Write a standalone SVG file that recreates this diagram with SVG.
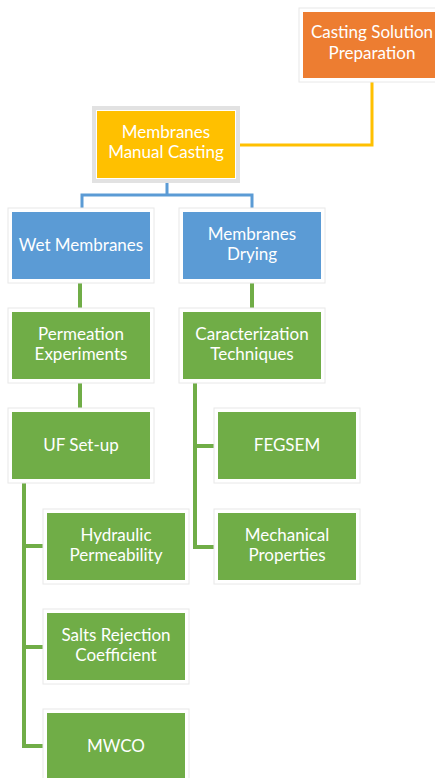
<svg xmlns="http://www.w3.org/2000/svg" width="435" height="778" viewBox="0 0 435 778">
<style>
.frame{fill:#ffffff;stroke:#e8e8e8;stroke-width:1}
.frameY{fill:#ffffff;stroke:#e2e2e2;stroke-width:4}
.or{fill:#ED7D31}
.ye{fill:#FFC000}
.bl{fill:#5B9BD5}
.gr{fill:#70AD47}
text{font-family:Lato,"Liberation Sans",sans-serif;font-size:17px;fill:#ffffff;text-anchor:middle}
.cy{fill:none;stroke:#FFC000;stroke-width:3}
.cb{fill:none;stroke:#5B9BD5;stroke-width:3}
.cg{fill:none;stroke:#70AD47;stroke-width:4}
</style>
<rect width="435" height="778" fill="#ffffff"/>
<g id="connectors">
<path class="cy" d="M372 80 V145 H238"/>
<path class="cb" d="M167 181 V195 M82 209 V195 H252 V209"/>
<path class="cg" d="M80 283 V308 M252 283 V308 M80 383 V408 M195 383 V547 H215 M195 446 H215 M24 483 V746 H44 M24 546 H44 M24 647 H44"/>
</g>
<g id="casting-solution">
<rect class="frame" x="299" y="8" width="142" height="74"/>
<rect class="or" x="303" y="12" width="134" height="66"/>
<text x="372" y="38">Casting Solution</text>
<text x="372" y="59">Preparation</text>
</g>
<g id="manual-casting">
<rect class="frameY" x="94" y="108" width="144" height="73"/>
<rect class="ye" x="97" y="111" width="138" height="67"/>
<text x="166" y="138">Membranes</text>
<text x="166" y="158">Manual Casting</text>
</g>
<g id="wet-membranes">
<rect class="frame" x="8" y="208" width="146" height="75"/>
<rect class="bl" x="12" y="212" width="138" height="67"/>
<text x="81" y="251">Wet Membranes</text>
</g>
<g id="membranes-drying">
<rect class="frame" x="179" y="208" width="146" height="75"/>
<rect class="bl" x="183" y="212" width="138" height="67"/>
<text x="252" y="240">Membranes</text>
<text x="252" y="260">Drying</text>
</g>
<g id="permeation">
<rect class="frame" x="8" y="308" width="146" height="75"/>
<rect class="gr" x="12" y="312" width="138" height="67"/>
<text x="81" y="340">Permeation</text>
<text x="81" y="360">Experiments</text>
</g>
<g id="caracterization">
<rect class="frame" x="179" y="308" width="146" height="75"/>
<rect class="gr" x="183" y="312" width="138" height="67"/>
<text x="252" y="340">Caracterization</text>
<text x="252" y="360">Techniques</text>
</g>
<g id="uf-setup">
<rect class="frame" x="8" y="408" width="146" height="75"/>
<rect class="gr" x="12" y="412" width="138" height="67"/>
<text x="81" y="451">UF Set-up</text>
</g>
<g id="fegsem">
<rect class="frame" x="214" y="408" width="146" height="75"/>
<rect class="gr" x="218" y="412" width="138" height="67"/>
<text x="287" y="451">FEGSEM</text>
</g>
<g id="mechanical">
<rect class="frame" x="214" y="509" width="146" height="75"/>
<rect class="gr" x="218" y="513" width="138" height="67"/>
<text x="287" y="541">Mechanical</text>
<text x="287" y="561">Properties</text>
</g>
<g id="hydraulic">
<rect class="frame" x="43" y="509" width="146" height="75"/>
<rect class="gr" x="47" y="513" width="138" height="67"/>
<text x="116" y="541">Hydraulic</text>
<text x="116" y="561">Permeability</text>
</g>
<g id="salts">
<rect class="frame" x="43" y="609" width="146" height="75"/>
<rect class="gr" x="47" y="613" width="138" height="67"/>
<text x="116" y="641">Salts Rejection</text>
<text x="116" y="661">Coefficient</text>
</g>
<g id="mwco">
<rect class="frame" x="43" y="709" width="146" height="75"/>
<rect class="gr" x="47" y="713" width="138" height="67"/>
<text x="116" y="752">MWCO</text>
</g>
</svg>
